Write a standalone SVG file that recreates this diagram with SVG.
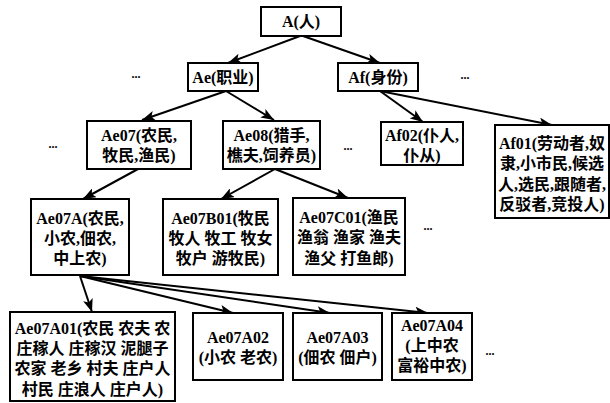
<svg xmlns="http://www.w3.org/2000/svg" width="610" height="403" viewBox="0 0 610 403">
<style>
.box{fill:#fff;stroke:#000;stroke-width:2}
.t{font-family:"Liberation Serif","Noto Sans CJK SC",serif;font-weight:bold;font-size:16px;text-anchor:middle;fill:#000}
.d{font-family:"Liberation Serif",serif;font-weight:bold;font-size:12px;text-anchor:middle;fill:#000}
.e{stroke:#000;stroke-width:2;fill:none;marker-end:url(#ah)}
</style>
<defs>
<marker id="ah" markerUnits="userSpaceOnUse" markerWidth="14" markerHeight="10" refX="13" refY="5" orient="auto">
<path d="M0,0 L13,5 L0,10 L3,5 z" fill="#000"/>
</marker>
</defs>
<rect width="610" height="403" fill="#fff"/>
<g id="connectors">
<line class="e" x1="300" y1="36" x2="228" y2="63"/>
<line class="e" x1="303" y1="36" x2="380" y2="63"/>
<line class="e" x1="226" y1="91" x2="142" y2="120"/>
<line class="e" x1="226" y1="91" x2="274" y2="120"/>
<line class="e" x1="380" y1="91" x2="423" y2="122"/>
<line class="e" x1="380" y1="91" x2="552" y2="125"/>
<line class="e" x1="138" y1="169" x2="83" y2="199"/>
<line class="e" x1="275" y1="169" x2="221" y2="199"/>
<line class="e" x1="275" y1="169" x2="348" y2="198"/>
<line class="e" x1="80" y1="276" x2="92" y2="312"/>
<line class="e" x1="80" y1="276" x2="233" y2="313"/>
<line class="e" x1="80" y1="276" x2="330" y2="313"/>
<line class="e" x1="80" y1="276" x2="428" y2="313"/>
</g>
<g id="A"><rect class="box" x="261" y="7" width="80" height="29"/><text class="t" x="301" y="27">A(人)</text></g>
<g id="Ae"><rect class="box" x="188" y="63" width="70" height="28"/><text class="t" x="223" y="83">Ae(职业)</text></g>
<g id="Af"><rect class="box" x="338" y="63" width="80" height="28"/><text class="t" x="378" y="83">Af(身份)</text></g>
<g id="Ae07"><rect class="box" x="87" y="121" width="104" height="48"/><text class="t" x="139" y="141">Ae07(农民,</text><text class="t" x="139" y="161">牧民,渔民)</text></g>
<g id="Ae08"><rect class="box" x="223" y="121" width="97" height="48"/><text class="t" x="271.5" y="141">Ae08(猎手,</text><text class="t" x="271.5" y="161">樵夫,饲养员)</text></g>
<g id="Af02"><rect class="box" x="381" y="122" width="82" height="43"/><text class="t" x="422" y="141">Af02(仆人,</text><text class="t" x="422" y="161">仆从)</text></g>
<g id="Af01"><rect class="box" x="495" y="125" width="114" height="93"/><text class="t" x="552" y="149">Af01(劳动者,奴</text><text class="t" x="552" y="169">隶,小市民,候选</text><text class="t" x="552" y="190">人,选民,跟随者,</text><text class="t" x="552" y="210">反驳者,竞投人)</text></g>
<g id="Ae07A"><rect class="box" x="31" y="199" width="98" height="76"/><text class="t" x="80" y="224">Ae07A(农民,</text><text class="t" x="80" y="244">小农,佃农,</text><text class="t" x="80" y="264">中上农)</text></g>
<g id="Ae07B01"><rect class="box" x="163" y="199" width="115" height="76"/><text class="t" x="220.5" y="224">Ae07B01(牧民</text><text class="t" x="220.5" y="244">牧人 牧工 牧女</text><text class="t" x="220.5" y="264">牧户 游牧民)</text></g>
<g id="Ae07C01"><rect class="box" x="293" y="198" width="112" height="77"/><text class="t" x="349" y="223">Ae07C01(渔民</text><text class="t" x="349" y="243">渔翁 渔家 渔夫</text><text class="t" x="349" y="264">渔父 打鱼郎)</text></g>
<g id="Ae07A01"><rect class="box" x="10" y="312" width="165" height="89"/><text class="t" x="92.5" y="334">Ae07A01(农民 农夫 农</text><text class="t" x="92.5" y="354">庄稼人 庄稼汉 泥腿子</text><text class="t" x="92.5" y="374">农家 老乡 村夫 庄户人</text><text class="t" x="92.5" y="395">村民 庄浪人 庄户人)</text></g>
<g id="Ae07A02"><rect class="box" x="193" y="313" width="90" height="67"/><text class="t" x="238" y="343">Ae07A02</text><text class="t" x="238" y="363">(小农 老农)</text></g>
<g id="Ae07A03"><rect class="box" x="293" y="313" width="89" height="67"/><text class="t" x="337.5" y="343">Ae07A03</text><text class="t" x="337.5" y="363">(佃农 佃户)</text></g>
<g id="Ae07A04"><rect class="box" x="392" y="313" width="80" height="67"/><text class="t" x="432" y="331">Ae07A04</text><text class="t" x="432" y="351">(上中农</text><text class="t" x="432" y="371">富裕中农)</text></g>
<g id="dots">
<text class="d" x="136" y="78">...</text>
<text class="d" x="465" y="79">...</text>
<text class="d" x="53" y="148">...</text>
<text class="d" x="348" y="150">...</text>
<text class="d" x="428" y="230">...</text>
<text class="d" x="490" y="355">...</text>
</g>
</svg>
